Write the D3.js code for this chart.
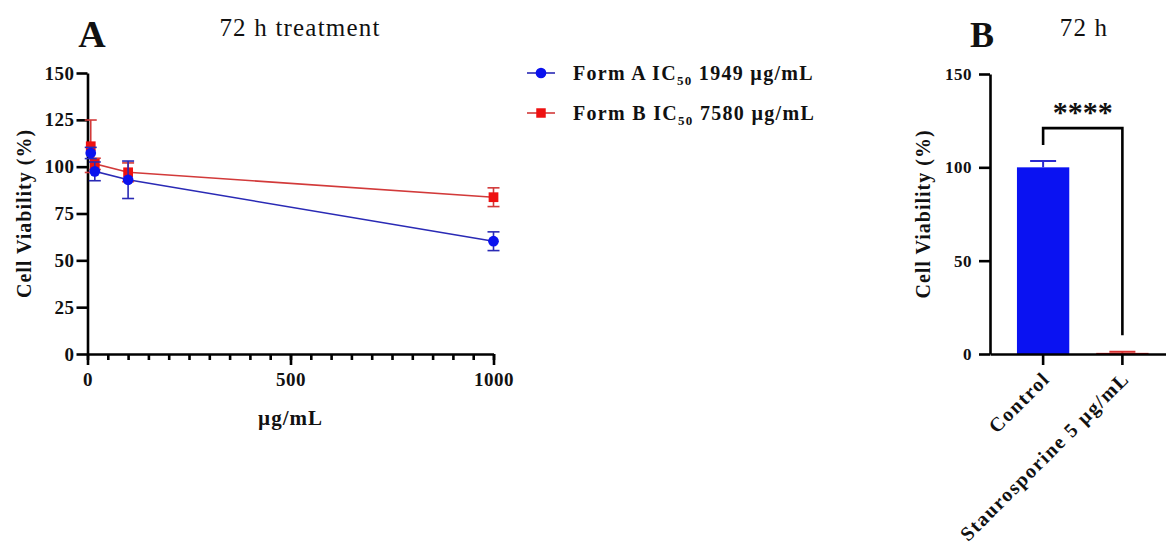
<!DOCTYPE html>
<html>
<head>
<meta charset="utf-8">
<script src="https://cdn.jsdelivr.net/npm/d3@7"></script>
<style>
  body { margin: 0; background: #fff; }
  svg text { font-family: "Liberation Serif", "DejaVu Serif", serif; fill: #111; }
  .axis path, .axis line { stroke: #000; stroke-width: 2.6px; }
  .axis text { font-size: 19px; font-weight: bold; fill: #111; letter-spacing: 0.5px; }
</style>
</head>
<body>
<svg id="chart" width="1166" height="545"></svg>
<script>
// Panel A: dose response, 72 h
const doses = [8, 18, 100, 1000];
const formA = [107.3, 97.5, 93.0, 60.2];
const formAErr = [3, 5, 10, 5];
const formB = [110.9, 101.5, 97.0, 83.7];
const formBErr = [14, 3, 5, 5];
const yTicksA = [0, 25, 50, 75, 100, 125, 150];
const xMajorA = [0, 500, 1000];

// Panel B: control vs staurosporine
const groups = ["Control", "Staurosporine 5 µg/mL"];
const groupMeans = [100, 0.6];
const groupErr = [3.4, 0.6];
const yTicksB = [0, 50, 100, 150];

const svg = d3.select("#chart");

// ---------- Panel A ----------
const xA = d3.scaleLinear().domain([0, 1000]).range([87.5, 493.5]);
const yA = d3.scaleLinear().domain([0, 150]).range([354, 73]);

const gA = svg.append("g");

// minor x ticks every 50
gA.append("g")
  .attr("class", "axis")
  .attr("transform", `translate(0,${yA(0)})`)
  .call(d3.axisBottom(xA).tickValues(d3.range(0, 1001, 50)).tickSize(6).tickSizeOuter(0).tickFormat(""))
  .call(g => g.select(".domain").remove());

gA.append("g")
  .attr("class", "axis")
  .attr("transform", `translate(0,${yA(0)})`)
  .call(d3.axisBottom(xA).tickValues(xMajorA).tickSize(11).tickSizeOuter(0).tickPadding(8).tickFormat(d3.format("d")));

gA.append("g")
  .attr("class", "axis")
  .attr("transform", `translate(${xA(0)},0)`)
  .call(d3.axisLeft(yA).tickValues(yTicksA).tickSize(11).tickSizeOuter(0).tickPadding(2));

const seriesA = [
  { name: "Form A", vals: formA, err: formAErr, line: "#2a2ab5", fill: "#0b12ee", shape: "circle" },
  { name: "Form B", vals: formB, err: formBErr, line: "#d23a3a", fill: "#ee1111", shape: "square" }
];

const lineA = d3.line().x(d => xA(d[0])).y(d => yA(d[1]));

seriesA.forEach(s => {
  const pts = doses.map((d, i) => [d, s.vals[i]]);
  gA.append("path")
    .datum(pts)
    .attr("d", lineA)
    .attr("fill", "none")
    .attr("stroke", s.line)
    .attr("stroke-width", 1.6);
});

[seriesA[1], seriesA[0]].forEach(s => {
  const g = gA.append("g");
  doses.forEach((d, i) => {
    const cx = xA(d), lo = yA(s.vals[i] - s.err[i]), hi = yA(s.vals[i] + s.err[i]);
    g.append("line").attr("x1", cx).attr("x2", cx).attr("y1", lo).attr("y2", hi)
      .attr("stroke", s.line).attr("stroke-width", 1.6);
    [lo, hi].forEach(y => g.append("line").attr("x1", cx - 6).attr("x2", cx + 6).attr("y1", y).attr("y2", y)
      .attr("stroke", s.line).attr("stroke-width", 1.6));
  });
  const sym = d3.symbol().type(s.shape === "circle" ? d3.symbolCircle : d3.symbolSquare).size(s.shape === "circle" ? 90 : 95);
  g.selectAll("path.m").data(doses).join("path")
    .attr("class", "m")
    .attr("d", sym)
    .attr("transform", (d, i) => `translate(${xA(d)},${yA(s.vals[i])})`)
    .attr("fill", s.fill);
});

// labels panel A
svg.append("text").attr("x", 92).attr("y", 47).attr("text-anchor", "middle")
  .style("font-size", "38px").style("font-weight", "bold").text("A");
svg.append("text").attr("x", 300).attr("y", 36).attr("text-anchor", "middle")
  .style("font-size", "25px").style("letter-spacing", "1.2px").text("72 h treatment");
svg.append("text").attr("transform", `translate(31,${(yA(0) + yA(150)) / 2}) rotate(-90)`)
  .attr("text-anchor", "middle").style("font-size", "20px").style("font-weight", "bold")
  .style("letter-spacing", "1px")
  .text("Cell Viability (%)");
svg.append("text").attr("x", xA(500)).attr("y", 425).attr("text-anchor", "middle")
  .style("font-size", "21px").style("font-weight", "bold").style("letter-spacing", "1px").text("µg/mL");

// legend
const legendItems = [
  { s: seriesA[0], ic: "1949" },
  { s: seriesA[1], ic: "7580" }
];
legendItems.forEach((it, i) => {
  const y = 73 + i * 40;
  const g = svg.append("g").attr("transform", `translate(527,${y})`);
  g.append("line").attr("x1", 0).attr("x2", 28).attr("stroke", it.s.line).attr("stroke-width", 1.6);
  g.append("path")
    .attr("d", d3.symbol().type(it.s.shape === "circle" ? d3.symbolCircle : d3.symbolSquare).size(90))
    .attr("transform", "translate(14,0)").attr("fill", it.s.fill);
  const t = g.append("text").attr("x", 46).attr("y", 7)
    .style("font-size", "20px").style("font-weight", "bold").style("letter-spacing", "1.3px");
  t.append("tspan").text(`${it.s.name} IC`);
  t.append("tspan").attr("dy", 5).style("font-size", "13px").text("50");
  t.append("tspan").attr("dy", -5).text(` ${it.ic} µg/mL`);
});

// ---------- Panel B ----------
const xB = d3.scaleBand().domain(groups).range([990, 1175.5]).padding(0.34);
const yB = d3.scaleLinear().domain([0, 150]).range([354, 74]);
const barColors = ["#0a12f2", "#e01818"];

const gB = svg.append("g");

gB.selectAll("rect.bar").data(groups).join("rect")
  .attr("class", "bar")
  .attr("x", d => xB(d))
  .attr("width", xB.bandwidth())
  .attr("y", (d, i) => yB(groupMeans[i]))
  .attr("height", (d, i) => yB(0) - yB(groupMeans[i]))
  .attr("fill", (d, i) => barColors[i]);

groups.forEach((d, i) => {
  const cx = xB(d) + xB.bandwidth() / 2;
  const top = yB(groupMeans[i] + groupErr[i]);
  const c = i === 0 ? "#2a2ad0" : "#d83030";
  gB.append("line").attr("x1", cx).attr("x2", cx).attr("y1", yB(groupMeans[i])).attr("y2", top)
    .attr("stroke", c).attr("stroke-width", 2);
  gB.append("line").attr("x1", cx - 13).attr("x2", cx + 13).attr("y1", top).attr("y2", top)
    .attr("stroke", c).attr("stroke-width", 2);
});

gB.append("g")
  .attr("class", "axis")
  .attr("transform", `translate(0,${yB(0)})`)
  .call(d3.axisBottom(xB).tickSize(11).tickSizeOuter(0).tickFormat(""));

gB.append("g")
  .attr("class", "axis")
  .attr("transform", `translate(990,0)`)
  .call(d3.axisLeft(yB).tickValues(yTicksB).tickSize(11).tickSizeOuter(0).tickPadding(7))
  .call(g => g.selectAll("text").style("font-size", "17px"));

// rotated category labels
gB.selectAll("text.cat").data(groups).join("text")
  .attr("class", "cat")
  .attr("transform", d => `translate(${xB(d) + xB.bandwidth() / 2 + 8},${yB(0) + 26}) rotate(-45)`)
  .attr("text-anchor", "end")
  .style("font-size", "20px").style("font-weight", "bold").style("letter-spacing", "1.5px")
  .text(d => d);

// significance bracket
const cx0 = xB(groups[0]) + xB.bandwidth() / 2;
const cx1 = xB(groups[1]) + xB.bandwidth() / 2;
gB.append("path")
  .attr("d", `M${cx0},${yB(112)}V${yB(121)}H${cx1}V${yB(10)}`)
  .attr("fill", "none").attr("stroke", "#000").attr("stroke-width", 2.6);
gB.append("text").attr("x", (cx0 + cx1) / 2).attr("y", yB(121) - 6).attr("text-anchor", "middle")
  .style("font-size", "30px").style("font-weight", "bold").text("****");

svg.append("text").attr("x", 982).attr("y", 47).attr("text-anchor", "middle")
  .style("font-size", "36px").style("font-weight", "bold").text("B");
svg.append("text").attr("x", 1084).attr("y", 36).attr("text-anchor", "middle")
  .style("font-size", "25px").style("letter-spacing", "1.2px").text("72 h");
svg.append("text").attr("transform", `translate(930,${(yB(0) + yB(150)) / 2}) rotate(-90)`)
  .attr("text-anchor", "middle").style("font-size", "20px").style("font-weight", "bold")
  .style("letter-spacing", "1px")
  .text("Cell Viability (%)");
</script>
</body>
</html>
